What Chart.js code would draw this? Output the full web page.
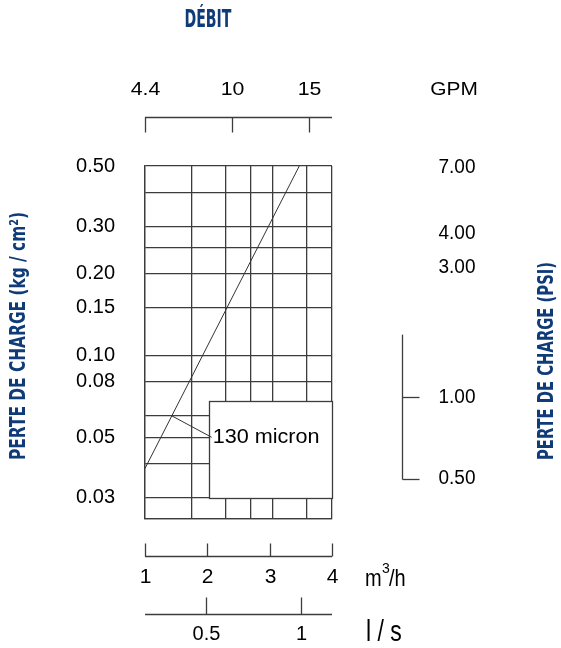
<!DOCTYPE html>
<html>
<head>
<meta charset="utf-8">
<title>Perte de charge – 130 micron</title>
<style>
  html, body { margin: 0; padding: 0; background: #ffffff; }
  #wrap { width: 561px; height: 648px; }
</style>
</head>
<body>
<div id="wrap"><canvas id="chart" width="561" height="648"></canvas></div>
<script src="https://cdn.jsdelivr.net/npm/chart.js@4/dist/chart.umd.min.js"></script>
<script>
// Pressure-drop curve of the 130 micron element
const seriesName = '130 micron';
const flowM3h   = [1.0, 1.75, 2.5, 3.05, 3.475];     // débit, m³/h
const dropKgCm2 = [0.0384, 0.0836, 0.182, 0.322, 0.5]; // perte de charge, kg/cm²

// Grid and tick values
const flowGrid   = [1, 1.75, 2.3, 2.7, 3.05, 3.6, 4];
const dropGrid   = [0.025, 0.03, 0.04, 0.05, 0.06, 0.08, 0.1, 0.15, 0.2, 0.25, 0.3, 0.4, 0.5];
const dropLabels = [0.03, 0.05, 0.08, 0.1, 0.15, 0.2, 0.3, 0.5];
const m3hTicks   = [1, 2, 3, 4];
const gpmTicks   = [4.4, 10, 15];
const lsTicks    = [0.5, 1];
const psiTicks   = [7, 4, 3, 1, 0.5];
const psiMarked  = [1, 0.5];

const KG_TO_PSI = 14.2233;
const INK = '#3c3c3c';
const BLUE = '#0f3b78';
const SANS = "'Liberation Sans', Arial, Helvetica, sans-serif";
const CONDENSED = "'Liberation Sans Narrow', 'DejaVu Sans Condensed', 'Liberation Sans', sans-serif";

function drawText(ctx, str, x, y, o) {
  ctx.save();
  ctx.translate(x, y);
  if (o.rot) ctx.rotate(o.rot);
  ctx.font = o.font;
  ctx.fillStyle = o.color || '#000';
  ctx.textAlign = o.align || 'center';
  ctx.textBaseline = o.baseline || 'middle';
  let sx = o.sx || 1;
  if (o.width) sx = o.width / ctx.measureText(str).width;
  ctx.scale(sx, o.sy || 1);
  ctx.fillText(str, 0, 0);
  ctx.restore();
}
const snap = v => Math.round(v) + 0.5;

function line(ctx, x1, y1, x2, y2) {
  ctx.beginPath(); ctx.moveTo(x1, y1); ctx.lineTo(x2, y2); ctx.stroke();
}

const decor = {
  id: 'decor',
  beforeDatasetsDraw(chart, args, o) {
    // white legend panel laid over the grid
    const { ctx, scales: { x, y } } = chart;
    const l = snap(x.getPixelForValue(o.panelFlow[0]));
    const r = snap(x.getPixelForValue(o.panelFlow[1]));
    const t = snap(y.getPixelForValue(o.panelDrop[1]));
    const b = snap(y.getPixelForValue(o.panelDrop[0]));
    ctx.save();
    ctx.fillStyle = '#ffffff';
    ctx.fillRect(l, t, r - l, b - t);
    ctx.strokeStyle = INK; ctx.lineWidth = 1.3;
    ctx.strokeRect(l, t, r - l, b - t);
    ctx.restore();
  },
  afterDatasetsDraw(chart, args, o) {
    const { ctx, scales: { x, y } } = chart;
    const x1 = x.getPixelForValue(o.calloutFrom[0]), y1 = y.getPixelForValue(o.calloutFrom[1]);
    const x2 = x.getPixelForValue(o.calloutTo[0]),   y2 = y.getPixelForValue(o.calloutTo[1]);
    ctx.save();
    ctx.strokeStyle = '#333'; ctx.lineWidth = 1;
    line(ctx, x1, y1, x2, y2);
    drawText(ctx, chart.data.datasets[0].label, x2 + 1, y2, { font: '20px ' + SANS, align: 'left', sx: 1.08 });
    ctx.restore();
  },
  afterDraw(chart) {
    const { ctx, chartArea: a, scales: { x, gpm, ls, psi } } = chart;
    ctx.save();
    ctx.strokeStyle = INK; ctx.lineWidth = 1.3;

    // GPM scale above the grid
    const yG = snap(a.top - 49);
    line(ctx, a.left, yG, a.right, yG);
    gpmTicks.forEach(v => {
      const px = snap(gpm.getPixelForValue(v));
      line(ctx, px, yG, px, yG + 15);
      drawText(ctx, String(v), px, yG - 28, { font: '19px ' + SANS, sx: 1.12 });
    });
    drawText(ctx, 'GPM', 454, yG - 28, { font: '19px ' + SANS, sx: 1.1 });

    // m³/h scale below the grid
    const yM = snap(a.bottom + 37);
    line(ctx, a.left, yM, a.right, yM);
    m3hTicks.forEach(v => {
      const px = snap(x.getPixelForValue(v));
      line(ctx, px, yM, px, yM - 13);
      drawText(ctx, String(v), px, yM + 21, { font: '21px ' + SANS });
    });
    drawText(ctx, 'm', 365, yM + 29, { font: '20px ' + SANS, align: 'left', baseline: 'alphabetic', sy: 1.2 });
    drawText(ctx, '3', 382, yM + 16, { font: '14px ' + SANS, align: 'left', baseline: 'alphabetic' });
    drawText(ctx, '/h', 389, yM + 29, { font: '20px ' + SANS, align: 'left', baseline: 'alphabetic', sy: 1.2 });

    // l/s scale
    const yL = snap(a.bottom + 95);
    line(ctx, a.left, yL, a.right, yL);
    lsTicks.forEach(v => {
      const px = snap(ls.getPixelForValue(v));
      line(ctx, px, yL, px, yL - 17);
      drawText(ctx, String(v), px, yL + 20, { font: '20px ' + SANS });
    });
    drawText(ctx, 'l / s', 366, yL + 26, { font: '23px ' + SANS, align: 'left', baseline: 'alphabetic', sy: 1.25 });

    // PSI scale on the right
    const xP = snap(a.right + 70);
    const top = psi.getPixelForValue(1.7);
    const bot = snap(psi.getPixelForValue(0.5));
    line(ctx, xP, top, xP, bot);
    psiMarked.forEach(v => {
      const py = snap(psi.getPixelForValue(v));
      line(ctx, xP, py, xP + 17, py);
    });
    psiTicks.forEach(v => {
      drawText(ctx, v.toFixed(2), xP + 36, psi.getPixelForValue(v), { font: '20px ' + SANS, align: 'left', sx: 0.95 });
    });

    // titles
    drawText(ctx, 'DÉBIT', 208, 21, { font: 'bold 24px ' + CONDENSED, color: BLUE, width: 47 });
    drawText(ctx, 'PERTE DE CHARGE (kg / cm²)', 20, 336, { font: 'bold 21px ' + CONDENSED, color: BLUE, width: 248, rot: -Math.PI / 2 });
    drawText(ctx, 'PERTE DE CHARGE (PSI)', 548, 361, { font: 'bold 21px ' + CONDENSED, color: BLUE, width: 198, rot: -Math.PI / 2 });
    ctx.restore();
  }
};

const near = (list, v) => list.some(t => Math.abs(t - v) < 1e-9);

new Chart(document.getElementById('chart'), {
  type: 'line',
  data: {
    datasets: [{
      label: seriesName,
      data: flowM3h.map((f, i) => ({ x: f, y: dropKgCm2[i] })),
      borderColor: '#333333',
      borderWidth: 1,
      pointRadius: 0,
      tension: 0,
      fill: false
    }]
  },
  options: {
    responsive: false,
    animation: false,
    events: [],
    layout: { padding: { left: 0, top: 166, right: 229, bottom: 129 } },
    plugins: {
      legend: { display: false },
      tooltip: { enabled: false },
      decor: {
        panelFlow: [2.02, 4],
        panelDrop: [0.03, 0.068],
        calloutFrom: [1.43, 0.06],
        calloutTo: [2.07, 0.05]
      }
    },
    scales: {
      x: {
        type: 'linear', min: 1, max: 4,
        afterBuildTicks: s => { s.ticks = flowGrid.map(v => ({ value: v })); },
        afterFit: s => { s.height = 0; },
        ticks: { display: false, autoSkip: false },
        grid: { color: INK, lineWidth: 1.3, drawTicks: false },
        border: { display: true, color: INK, width: 1.3 }
      },
      y: {
        type: 'logarithmic', min: 0.025, max: 0.5,
        afterBuildTicks: s => { s.ticks = dropGrid.map(v => ({ value: v })); },
        afterFit: s => { s.width = 145; },
        ticks: {
          autoSkip: false, padding: 30, color: '#000',
          font: { family: SANS, size: 20 },
          callback: v => near(dropLabels, v) ? v.toFixed(2) : ''
        },
        grid: { color: INK, lineWidth: 1.3, drawTicks: false },
        border: { display: true, color: INK, width: 1.3 }
      },
      gpm: { type: 'linear', axis: 'x', display: false, min: 4.4, max: 16.49 },
      ls:  { type: 'linear', axis: 'x', display: false, min: 0.176, max: 1.164 },
      psi: { type: 'logarithmic', axis: 'y', display: false, min: 0.025 * KG_TO_PSI, max: 0.5 * KG_TO_PSI }
    }
  },
  plugins: [decor]
});
</script>
</body>
</html>
